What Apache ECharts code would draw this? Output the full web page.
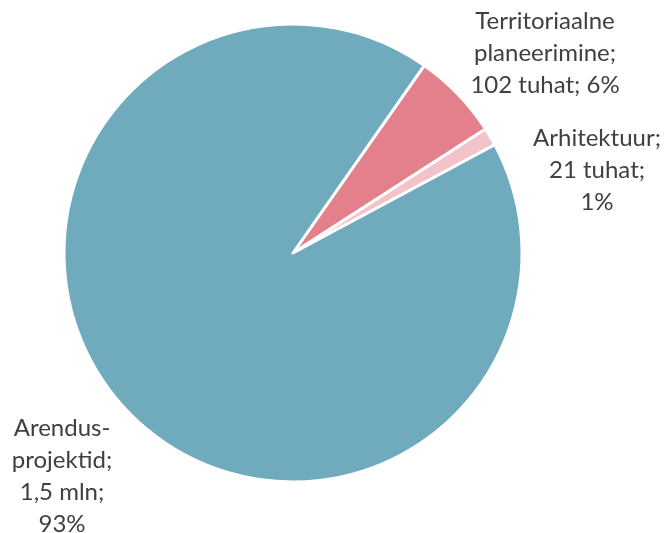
<!DOCTYPE html>
<html>
<head>
<meta charset="utf-8">
<script src="https://cdn.jsdelivr.net/npm/echarts@6/dist/echarts.min.js"></script>
<style>
html,body{margin:0;padding:0;background:#fff;}
#chart{width:665px;height:533px;}
</style>
</head>
<body>
<div id="chart"></div>
<script>
// Data (thousands of euros)
var categories = ["Territoriaalne planeerimine", "Arhitektuur", "Arendusprojektid"];
var values = [102, 21, 1530];
var valueLabels = ["102 tuhat", "21 tuhat", "1,5 mln"];
var nameLabels = ["Territoriaalne\nplaneerimine;", "Arhitektuur;", "Arendus-\nprojektid;"];
var colors = ["#E47F8C", "#F3C3CA", "#70AABD"];

var total = values.reduce(function (a, b) { return a + b; }, 0);
var data = categories.map(function (c, i) {
  return { name: c, value: values[i], itemStyle: { color: colors[i] } };
});
function labelText(i) {
  var pct = Math.round(values[i] / total * 100) + "%";
  if (i === 0) return nameLabels[i] + "\n" + valueLabels[i] + "; " + pct;
  return nameLabels[i] + "\n" + valueLabels[i] + ";\n" + pct;
}
var labelPos = [[545, 53], [597, 170], [62, 476]];

var chart = echarts.init(document.getElementById('chart'), null, { renderer: 'canvas' });
chart.setOption({
  animation: false,
  series: [{
    type: 'pie',
    center: [293, 253],
    radius: [0, 229],
    startAngle: 55,
    clockwise: true,
    data: data,
    itemStyle: { borderColor: '#ffffff', borderWidth: 3 },
    emphasis: { disabled: true },
    labelLine: { show: false },
    label: {
      show: true,
      position: 'outside',
      formatter: function (p) { return labelText(p.dataIndex); },
      fontFamily: 'Lato, "Open Sans", sans-serif',
      fontSize: 24,
      lineHeight: 32,
      color: '#404040',
      align: 'center',
      overflow: 'none',
      width: 300
    },
    labelLayout: function (params) {
      var pos = labelPos[params.dataIndex];
      return { x: pos[0], y: pos[1], align: 'center', verticalAlign: 'middle', hideOverlap: false, moveOverlap: null };
    }
  }]
});
</script>
</body>
</html>
